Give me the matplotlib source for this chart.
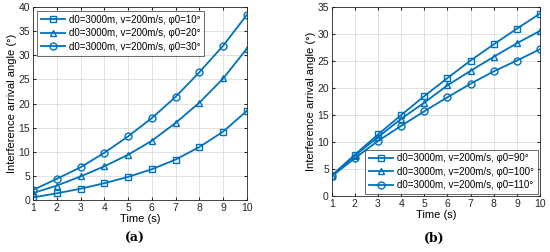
import matplotlib.pyplot as plt

plt.rcParams['font.family'] = ['Liberation Sans', 'DejaVu Sans']

t = [1, 2, 3, 4, 5, 6, 7, 8, 9, 10]

# panel (a)
a_phi10 = [0.55, 1.4, 2.35, 3.5, 4.8, 6.4, 8.4, 11.0, 14.2, 18.5]
a_phi20 = [1.45, 3.0, 4.9, 7.0, 9.4, 12.3, 16.0, 20.2, 25.2, 31.4]
a_phi30 = [2.1, 4.4, 6.8, 9.8, 13.2, 17.0, 21.4, 26.5, 32.0, 38.4]
a_labels = ['d0=3000m, v=200m/s, φ0=10°', 'd0=3000m, v=200m/s, φ0=20°',
            'd0=3000m, v=200m/s, φ0=30°']

# panel (b)
b_phi90 = [3.8, 7.65, 11.4, 15.0, 18.5, 21.85, 25.1, 28.1, 31.0, 33.8]
b_phi100 = [3.75, 7.5, 10.9, 14.3, 17.3, 20.5, 23.2, 25.8, 28.3, 30.6]
b_phi110 = [3.65, 7.0, 10.2, 13.0, 15.7, 18.3, 20.8, 23.1, 25.1, 27.2]
b_labels = ['d0=3000m, v=200m/s, φ0=90°', 'd0=3000m, v=200m/s, φ0=100°',
            'd0=3000m, v=200m/s, φ0=110°']

blue = '#0072BD'
markers = ['s', '^', 'o']

fig = plt.figure(figsize=(5.5, 2.52), dpi=100)
ax1 = fig.add_axes([0.06, 0.206, 0.389, 0.766])
ax2 = fig.add_axes([0.603, 0.222, 0.379, 0.75])


def draw(ax, series, labels, ymax, loc, pad):
    for y, m, lab in zip(series, markers, labels):
        ax.plot(t, y, color=blue, lw=1.3, marker=m, ms=5, mfc='none',
                mew=1.0, label=lab)
    ax.set_xlim(1, 10)
    ax.set_ylim(0, ymax)
    ax.set_xticks(t)
    ax.set_yticks(range(0, ymax + 1, 5))
    ax.grid(True, color='#dcdcdc', lw=0.6)
    ax.tick_params(direction='in', labelsize=7.5, length=2.5, top=True, right=True,
                   pad=2, colors='#262626')
    for s in ax.spines.values():
        s.set_color('#262626')
        s.set_linewidth(0.6)
    ax.set_xlabel('Time (s)', fontsize=8, labelpad=1)
    ax.set_ylabel('Interference arrival angle (°)', fontsize=8, labelpad=1)
    leg = ax.legend(loc=loc, fontsize=7, handlelength=2.5, frameon=True,
                    fancybox=False, borderpad=0.4, labelspacing=0.35,
                    handletextpad=0.4, borderaxespad=pad)
    leg.get_frame().set_edgecolor('#262626')
    leg.get_frame().set_linewidth(0.6)


draw(ax1, [a_phi10, a_phi20, a_phi30], a_labels, 40, 'upper left', 0.4)
draw(ax2, [b_phi90, b_phi100, b_phi110], b_labels, 35, 'lower right', 0.2)

fig.text(0.245, 0.04, '(a)', ha='center', fontsize=9, fontweight='bold',
         family='DejaVu Serif')
fig.text(0.79, 0.04, '(b)', ha='center', fontsize=9, fontweight='bold',
         family='DejaVu Serif')

fig.savefig('out.png', dpi=100)
